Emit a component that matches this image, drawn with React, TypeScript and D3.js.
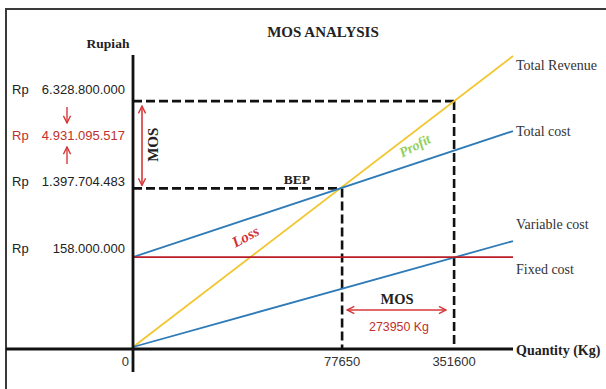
import React from "react";
import * as d3 from "d3";

// Schematic units (0-100) used by the original diagram
const seriesNames = ["Total Revenue", "Total cost", "Variable cost", "Fixed cost"];
const seriesStart = [0, 30.9, 0, 30.9];
const seriesEnd = [100, 74.2, 36.4, 30.9];
const seriesColors = ["#f2c630", "#2e7bb8", "#2e7bb8", "#b81c24"];

const bepQty = 54.5;
const mosQty = 84.5;
const quantityTickLabels = ["0", "77650", "351600"];
const rupiahLabels = ["6.328.800.000", "4.931.095.517", "1.397.704.483", "158.000.000"];
const mosQtyLabel = "273950 Kg";

const W = 606;
const H = 389;
const serif = "'Liberation Serif', 'Times New Roman', serif";
const sans = "'Liberation Sans', Arial, sans-serif";

export default function App() {
  const x = d3.scaleLinear().domain([0, 100]).range([133, 513]);
  const y = d3.scaleLinear().domain([0, 100]).range([347, 56]);
  const line = d3
    .line<[number, number]>()
    .x((d) => x(d[0]))
    .y((d) => y(d[1]));

  const revenueAt = (q: number) => seriesStart[0] + ((seriesEnd[0] - seriesStart[0]) * q) / 100;
  const bepY = revenueAt(bepQty);
  const mosY = revenueAt(mosQty);
  const fixedY = seriesStart[3];
  const axisY = 349;
  const axisX = 133;

  const labelYs = [y(mosY) - 7, (y(mosY) + y(bepY)) / 2 - 5, y(bepY) - 2, y(fixedY) - 4];
  const labelColors = ["#222", "#c0302b", "#222", "#222"];
  const endLabelYs = [y(seriesEnd[0]) + 14, y(seriesEnd[1]) + 5, y(seriesEnd[2]) - 12, y(seriesEnd[3]) + 17];
  const tickXs = [axisX - 4, x(bepQty) + 2, x(mosQty)];

  const red = "#d8383a";
  return (
    <svg
      width={W}
      height={H}
      style={{ position: "absolute", left: 0, top: 0, background: "#fff" }}
    >
      <defs>
        <marker
          id="chev"
          viewBox="0 0 10 10"
          refX="9"
          refY="5"
          markerWidth="9"
          markerHeight="9"
          markerUnits="userSpaceOnUse"
          orient="auto-start-reverse"
        >
          <path d="M1,1 L9,5 L1,9" fill="none" stroke={red} strokeWidth="1.6" />
        </marker>
      </defs>
      <rect x={6} y={9} width={640} height={420} fill="#fff" stroke="#3a3a3a" strokeWidth={2} />

      {/* title */}
      <text x={323} y={37} textAnchor="middle" fontFamily={serif} fontWeight="bold" fontSize={15} fill="#222">
        MOS ANALYSIS
      </text>
      <text x={108} y={48} textAnchor="middle" fontFamily={serif} fontWeight="bold" fontSize={13.5} fill="#222">
        Rupiah
      </text>

      {/* dashed guides */}
      <g stroke="#111" strokeWidth={2.6} strokeDasharray="9,4" fill="none">
        <line x1={axisX} x2={x(mosQty)} y1={y(mosY)} y2={y(mosY)} />
        <line x1={x(mosQty)} x2={x(mosQty)} y1={y(mosY)} y2={axisY} />
        <line x1={axisX} x2={x(bepQty) + 2} y1={y(bepY)} y2={y(bepY)} />
        <line x1={x(bepQty) + 2} x2={x(bepQty) + 2} y1={y(bepY)} y2={axisY} />
      </g>

      {/* series lines */}
      {seriesNames.map((n, i) => (
        <path
          key={n}
          d={line([
            [0, seriesStart[i]],
            [100, seriesEnd[i]],
          ]) as string}
          stroke={seriesColors[i]}
          strokeWidth={1.8}
          fill="none"
        />
      ))}

      {/* axes */}
      <line x1={6} x2={513} y1={axisY} y2={axisY} stroke="#111" strokeWidth={2.8} />
      <line x1={axisX} x2={axisX} y1={55} y2={372} stroke="#111" strokeWidth={2.8} />

      {/* series end labels */}
      {seriesNames.map((n, i) => (
        <text key={n} x={516} y={endLabelYs[i]} fontFamily={serif} fontSize={14} fill="#333">
          {n}
        </text>
      ))}
      <text x={516} y={355} fontFamily={serif} fontWeight="bold" fontSize={14} fill="#222">
        Quantity (Kg)
      </text>

      {/* tick labels */}
      {quantityTickLabels.map((t, i) => (
        <text
          key={t}
          x={tickXs[i]}
          y={366}
          textAnchor={i === 0 ? "end" : "middle"}
          fontFamily={sans}
          fontSize={13}
          fill="#333"
        >
          {t}
        </text>
      ))}

      {/* rupiah labels */}
      {rupiahLabels.map((t, i) => (
        <g key={t} fontFamily={sans} fontSize={13} fill={labelColors[i]}>
          <text x={12} y={labelYs[i]}>Rp</text>
          <text x={125} y={labelYs[i]} textAnchor="end">
            {t}
          </text>
        </g>
      ))}
      <line x1={67} x2={67} y1={107} y2={123} stroke={red} strokeWidth={1.4} markerEnd="url(#chev)" />
      <line x1={67} x2={67} y1={164} y2={147} stroke={red} strokeWidth={1.4} markerEnd="url(#chev)" />

      {/* vertical MOS arrow */}
      <line
        x1={142}
        x2={142}
        y1={y(mosY) + 5}
        y2={y(bepY) - 3}
        stroke={red}
        strokeWidth={1.6}
        markerStart="url(#chev)"
        markerEnd="url(#chev)"
      />
      <text
        transform={`translate(158,${(y(mosY) + y(bepY)) / 2}) rotate(-90)`}
        textAnchor="middle"
        fontFamily={serif}
        fontWeight="bold"
        fontSize={15}
        fill="#222"
      >
        MOS
      </text>

      {/* BEP */}
      <text x={297} y={184} textAnchor="middle" fontFamily={serif} fontWeight="bold" fontSize={13.5} fill="#222">
        BEP
      </text>

      {/* Profit / Loss */}
      <text
        transform="translate(417,150) rotate(-28)"
        textAnchor="middle"
        fontFamily={serif}
        fontStyle="italic"
        fontWeight="bold"
        fontSize={14}
        fill="#93cf5a"
      >
        Profit
      </text>
      <text
        transform="translate(248,241) rotate(-29)"
        textAnchor="middle"
        fontFamily={serif}
        fontStyle="italic"
        fontWeight="bold"
        fontSize={15}
        fill="#d0303a"
      >
        Loss
      </text>

      {/* horizontal MOS annotation */}
      <text x={397} y={304} textAnchor="middle" fontFamily={serif} fontWeight="bold" fontSize={14.5} fill="#222">
        MOS
      </text>
      <line
        x1={x(bepQty) + 7}
        x2={x(mosQty) - 8}
        y1={310}
        y2={310}
        stroke={red}
        strokeWidth={1.6}
        markerStart="url(#chev)"
        markerEnd="url(#chev)"
      />
      <text x={399} y={331} textAnchor="middle" fontFamily={sans} fontSize={12.4} fill="#c0302b">
        {mosQtyLabel}
      </text>
    </svg>
  );
}
